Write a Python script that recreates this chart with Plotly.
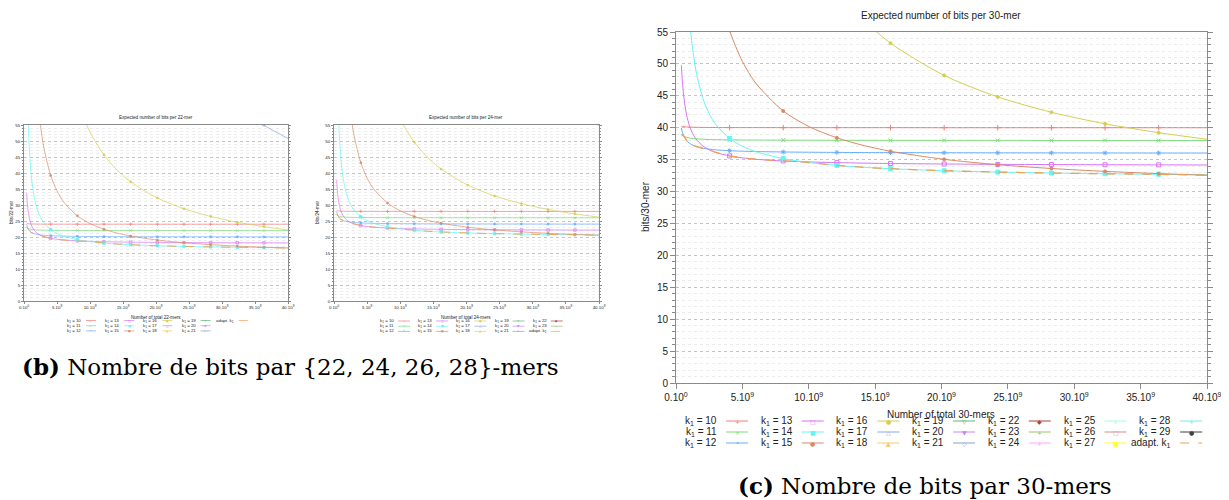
import plotly.graph_objects as go

# The page has an 8px body margin, so the figure is drawn 8px in from the window corner.
W, H = 1229, 500
OFF = 8
FW, FH = W - OFF, H - OFF
N = None

# ---------------- data ----------------
X = [0.404, 0.5, 0.6, 0.8, 1.0, 1.2, 1.5, 2.0, 2.5, 3.0, 4.04, 5.0, 6.0, 8.08,
     10.0, 12.12, 14.0, 16.16, 20.2, 24.24, 28.28, 32.32, 36.36, 40.0]
MARK_X = [4.04, 8.08, 12.12, 16.16, 20.2, 24.24, 28.28, 32.32, 36.36]

XTICK_VALS = [0, 5, 10, 15, 20, 25, 30, 35, 40]
XTICK_TEXT = ['0.10<sup>0</sup>', '5.10<sup>9</sup>', '10.10<sup>9</sup>', '15.10<sup>9</sup>',
              '20.10<sup>9</sup>', '25.10<sup>9</sup>', '30.10<sup>9</sup>', '35.10<sup>9</sup>',
              '40.10<sup>9</sup>']

K1_22 = list(range(10, 22))
K1_24 = list(range(10, 24))
K1_30 = list(range(10, 30))

# 22-mers
B22_K10 = [24.25, 24.20, 24.17, 24.12, 24.10, 24.08, 24.07, 24.05, 24.04, 24.03, 24.02, 24.02,
           24.02, 24.01, 24.01, 24.01, 24.01, 24.01, 24.0, 24.0, 24.0, 24.0, 24.0, 24.0]
B22_K11 = [22.99, 22.80, 22.66, 22.50, 22.40, 22.33, 22.27, 22.20, 22.16, 22.13, 22.10, 22.08,
           22.07, 22.05, 22.04, 22.03, 22.03, 22.02, 22.02, 22.02, 22.01, 22.01, 22.01, 22.01]
B22_K12 = [23.95, 23.19, 22.66, 21.99, 21.59, 21.33, 21.06, 20.80, 20.64, 20.53, 20.40, 20.32,
           20.27, 20.20, 20.16, 20.13, 20.11, 20.10, 20.08, 20.07, 20.06, 20.05, 20.04, 20.04]
B22_K13 = [33.78, 30.75, 28.63, 25.97, 24.38, 23.31, 22.25, 21.19, 20.55, 20.13, 19.58, 19.28,
           19.06, 18.79, 18.64, 18.53, 18.46, 18.39, 18.32, 18.26, 18.23, 18.20, 18.18, 18.16]
B22_K14 = [N, 67.0, 58.5, 47.9, 41.5, 37.25, 33.0, 28.75, 26.2, 24.5, 22.31, 21.10,
           20.25, 19.16, 18.55, 18.10, 17.82, 17.58, 17.26, 17.05, 16.90, 16.79, 16.70, 16.64]
B22_K15 = [N, N, N, N, N, N, 82.0, 65.0, 54.8, 48.0, 39.25, 34.4,
           31.0, 26.62, 24.2, 22.42, 21.29, 20.31, 19.05, 18.21, 17.61, 17.16, 16.81, 16.55]
B22_K16 = [N, N, N, N, N, N, N, N, N, N, N, N,
           80.0, 62.5, 52.8, 45.66, 41.14, 37.25, 32.2, 28.83, 26.43, 24.62, 23.22, 22.2]
B22_K17 = [N, N, N, N, N, N, N, N, N, N, N, N,
           N, N, N, N, N, N, N, N, 67.7, 60.5, 54.9, 50.8]
B22_ADAPT = [22.99, 22.80, 22.66, 21.99, 21.59, 21.33, 21.06, 20.80, 20.55, 20.13, 19.58, 19.28,
             19.06, 18.79, 18.55, 18.10, 17.82, 17.58, 17.26, 17.05, 16.90, 16.79, 16.70, 16.55]

# 24-mers
B24_K10 = [28.25, 28.20, 28.17, 28.12, 28.10, 28.08, 28.07, 28.05, 28.04, 28.03, 28.02, 28.02,
           28.02, 28.01, 28.01, 28.01, 28.01, 28.01, 28.0, 28.0, 28.0, 28.0, 28.0, 28.0]
B24_K11 = [26.99, 26.80, 26.66, 26.50, 26.40, 26.33, 26.27, 26.20, 26.16, 26.13, 26.10, 26.08,
           26.07, 26.05, 26.04, 26.03, 26.03, 26.02, 26.02, 26.02, 26.01, 26.01, 26.01, 26.01]
B24_K12 = [27.95, 27.19, 26.66, 25.99, 25.59, 25.33, 25.06, 24.80, 24.64, 24.53, 24.40, 24.32,
           24.27, 24.20, 24.16, 24.13, 24.11, 24.10, 24.08, 24.07, 24.06, 24.05, 24.04, 24.04]
B24_K13 = [37.78, 34.75, 32.63, 29.97, 28.38, 27.31, 26.25, 25.19, 24.55, 24.13, 23.58, 23.28,
           23.06, 22.79, 22.64, 22.53, 22.46, 22.39, 22.32, 22.26, 22.23, 22.20, 22.18, 22.16]
B24_K14 = [N, 71.0, 62.5, 51.9, 45.5, 41.25, 37.0, 32.75, 30.2, 28.5, 26.31, 25.10,
           24.25, 23.16, 22.55, 22.10, 21.82, 21.58, 21.26, 21.05, 20.90, 20.79, 20.70, 20.64]
B24_K15 = [N, N, N, N, N, N, 86.0, 69.0, 58.8, 52.0, 43.25, 38.4,
           35.0, 30.62, 28.2, 26.42, 25.29, 24.31, 23.05, 22.21, 21.61, 21.16, 20.81, 20.55]
B24_K16 = [N, N, N, N, N, N, N, N, N, N, N, N,
           84.0, 66.5, 56.8, 49.66, 45.14, 41.25, 36.2, 32.83, 30.43, 28.62, 27.22, 26.2]
B24_K17 = [N, N, N, N, N, N, N, N, N, N, N, N,
           N, N, N, N, N, N, N, N, N, 64.5, 58.9, 54.8]
B24_ADAPT = [26.99, 26.80, 26.66, 25.99, 25.59, 25.33, 25.06, 24.80, 24.55, 24.13, 23.58, 23.28,
             23.06, 22.79, 22.55, 22.10, 21.82, 21.58, 21.26, 21.05, 20.90, 20.79, 20.70, 20.55]

# 30-mers
B30_K10 = [40.25, 40.20, 40.17, 40.12, 40.10, 40.08, 40.07, 40.05, 40.04, 40.03, 40.02, 40.02,
           40.02, 40.01, 40.01, 40.01, 40.01, 40.01, 40.0, 40.0, 40.0, 40.0, 40.0, 40.0]
B30_K11 = [38.99, 38.80, 38.66, 38.50, 38.40, 38.33, 38.27, 38.20, 38.16, 38.13, 38.10, 38.08,
           38.07, 38.05, 38.04, 38.03, 38.03, 38.02, 38.02, 38.02, 38.01, 38.01, 38.01, 38.01]
B30_K12 = [39.95, 39.19, 38.66, 37.99, 37.59, 37.33, 37.06, 36.80, 36.64, 36.53, 36.40, 36.32,
           36.27, 36.20, 36.16, 36.13, 36.11, 36.10, 36.08, 36.07, 36.06, 36.05, 36.04, 36.04]
B30_K13 = [49.78, 46.75, 44.63, 41.97, 40.38, 39.31, 38.25, 37.19, 36.55, 36.13, 35.58, 35.28,
           35.06, 34.79, 34.64, 34.53, 34.46, 34.39, 34.32, 34.26, 34.23, 34.20, 34.18, 34.16]
B30_K14 = [N, 83.0, 74.5, 63.9, 57.5, 53.25, 49.0, 44.75, 42.2, 40.5, 38.31, 37.10,
           36.25, 35.16, 34.55, 34.10, 33.82, 33.58, 33.26, 33.05, 32.90, 32.79, 32.70, 32.64]
B30_K15 = [N, N, N, N, N, N, N, 81.0, 70.8, 64.0, 55.25, 50.4,
           47.0, 42.62, 40.2, 38.42, 37.29, 36.31, 35.05, 34.21, 33.61, 33.16, 32.81, 32.55]
B30_K16 = [N, N, N, N, N, N, N, N, N, N, N, N,
           N, 78.5, 68.8, 61.66, 57.14, 53.25, 48.2, 44.83, 42.43, 40.62, 39.22, 38.2]
B30_ADAPT = [38.99, 38.80, 38.66, 37.99, 37.59, 37.33, 37.06, 36.80, 36.55, 36.13, 35.58, 35.28,
             35.06, 34.79, 34.55, 34.10, 33.82, 33.58, 33.26, 33.05, 32.90, 32.79, 32.70, 32.55]

SERIES_22 = [(10, B22_K10), (11, B22_K11), (12, B22_K12), (13, B22_K13), (14, B22_K14),
             (15, B22_K15), (16, B22_K16), (17, B22_K17)]
SERIES_24 = [(10, B24_K10), (11, B24_K11), (12, B24_K12), (13, B24_K13), (14, B24_K14),
             (15, B24_K15), (16, B24_K16), (17, B24_K17)]
SERIES_30 = [(10, B30_K10), (11, B30_K11), (12, B30_K12), (13, B30_K13), (14, B30_K14),
             (15, B30_K15), (16, B30_K16)]

# ---------------- styles ----------------
COLORS = {10: '#f08080', 11: '#7ddc7d', 12: '#6aaefc', 13: '#d874f4', 14: '#66f5f5',
          15: '#d98b66', 16: '#d4cf50', 17: '#8ea6ec', 18: '#f7c860', 19: '#5cb87c',
          20: '#c486fa', 21: '#8aa2ba', 22: '#b03c3c', 23: '#9cbf6a', 24: '#fca8fc',
          25: '#a8fcdc', 26: '#d98a8a', 27: '#ffff33', 28: '#78ecdc', 29: '#404040'}
ADAPT_COLOR = '#f0a050'
SYMBOLS = {10: 'cross-thin-open', 11: 'x-thin-open', 12: 'asterisk-open', 13: 'square-open',
           14: 'square', 15: 'circle', 16: 'circle', 17: 'triangle-up-open', 18: 'triangle-up',
           19: 'triangle-down-open', 20: 'triangle-down', 21: 'diamond-open', 22: 'diamond',
           23: 'cross-thin-open', 24: 'cross-thin-open', 25: 'cross-thin-open', 26: 'square-open',
           27: 'square', 28: 'cross-thin-open', 29: 'circle'}
GLYPH = {'cross-thin-open': '+', 'x-thin-open': '×', 'asterisk-open': '*', 'square-open': '□',
         'square': '■', 'circle': '●', 'triangle-up-open': '△', 'triangle-up': '▲',
         'triangle-down-open': '▽', 'triangle-down': '▼', 'diamond-open': '◇', 'diamond': '◆'}
AX = '#8a8a8a'
TXT = '#222222'
FONT = 'Liberation Sans'
SERIF = 'DejaVu Serif'

fig = go.Figure()


def add_series(series, adapt, xa, ya, lw, ms):
    for k1, ys in series:
        c = COLORS[k1]
        size = ms * (0.75 if SYMBOLS[k1] == 'circle' else 1.0)
        fig.add_trace(go.Scatter(
            x=X, y=ys, xaxis=xa, yaxis=ya, mode='lines+markers', showlegend=False,
            connectgaps=False, name='k1 = %d' % k1,
            line=dict(color=c, width=lw, shape='spline', smoothing=0.8),
            marker=dict(symbol=SYMBOLS[k1], color=c,
                        size=[size if x in MARK_X else 0 for x in X],
                        opacity=[1 if x in MARK_X else 0 for x in X],
                        line=dict(color=c, width=max(lw, 0.6)))))
    fig.add_trace(go.Scatter(
        x=X, y=adapt, xaxis=xa, yaxis=ya, mode='lines', showlegend=False, name='adapt. k1',
        line=dict(color=ADAPT_COLOR, width=lw * 1.3, dash='dash', shape='spline', smoothing=0.8)))


add_series(SERIES_22, B22_ADAPT, 'x', 'y', 0.7, 2.5)
add_series(SERIES_24, B24_ADAPT, 'x2', 'y2', 0.7, 2.5)
add_series(SERIES_30, B30_ADAPT, 'x3', 'y3', 1.0, 4.0)


def px(v):
    return (v - OFF) / FW


def py(v):
    return 1 - (v - OFF) / FH


def xstyle(x0, x1, anchor, fs, tl):
    return dict(domain=[px(x0), px(x1)], anchor=anchor, range=[0, 40],
                tickmode='array', tickvals=XTICK_VALS, ticktext=XTICK_TEXT,
                ticks='outside', ticklen=tl, tickwidth=1, tickcolor=AX,
                showline=True, linecolor=AX, linewidth=1, mirror=True,
                showgrid=False, zeroline=False, automargin=False,
                tickfont=dict(size=fs, color=TXT, family=FONT))


def ystyle(y0, y1, anchor, fs, tl):
    return dict(domain=[py(y1), py(y0)], anchor=anchor, range=[0, 55],
                tick0=0, dtick=5, ticks='outside', ticklen=tl, tickwidth=1, tickcolor=AX,
                showline=True, linecolor=AX, linewidth=1, mirror='ticks',
                showgrid=True, gridcolor='#c4c4c4', gridwidth=1, griddash='dot',
                zeroline=False, automargin=False,
                minor=dict(dtick=1, ticks='outside', ticklen=tl * 0.55, tickcolor=AX,
                           showgrid=True, gridcolor='#ececec', griddash='dot', gridwidth=1),
                tickfont=dict(size=fs, color=TXT, family=FONT))


annotations = []
shapes = []


def text(x, y, s, fs, anchor='center', angle=0, family=FONT, color=TXT):
    annotations.append(dict(x=px(x), y=py(y), xref='paper', yref='paper', text=s,
                            showarrow=False, xanchor=anchor, yanchor='middle',
                            textangle=angle, borderpad=0,
                            font=dict(size=fs, family=family, color=color)))


def legend(k1s, x_text, x_l0, x_l1, y0, dx, dy, fs, gfs, lw):
    entries = [('k<sub>1</sub> = %d' % k, COLORS[k], SYMBOLS[k], 'solid') for k in k1s]
    entries.append(('adapt. k<sub>1</sub>', ADAPT_COLOR, None, 'dash'))
    for i, (lab, c, sym, dash) in enumerate(entries):
        col, row = i // 3, i % 3
        yy = y0 + dy * row
        text(x_text + dx * col, yy, lab, fs, anchor='right')
        shapes.append(dict(type='line', xref='paper', yref='paper',
                           x0=px(x_l0 + dx * col), x1=px(x_l1 + dx * col), y0=py(yy), y1=py(yy),
                           line=dict(color=c, width=lw, dash=dash)))
        if sym is not None:
            text((x_l0 + x_l1) / 2 + dx * col, yy, GLYPH[sym], gfs, color=c, family='DejaVu Sans')


# titles and axis titles
text(156, 117, 'Expected number of bits per 22-mer', 4.6)
text(466, 117, 'Expected number of bits per 24-mer', 4.6)
text(941, 15, 'Expected number of bits per 30-mer', 10)
text(156, 317, 'Number of total 22-mers', 4.6)
text(466, 317, 'Number of total 24-mers', 4.6)
text(941, 414, 'Number of total 30-mers', 10)
text(11, 213, 'bits/22-mer', 4.6, angle=-90)
text(317, 213, 'bits/24-mer', 4.6, angle=-90)
text(645, 207, 'bits/30-mer', 10, angle=-90)

legend(K1_22, 82, 86, 96, 320.5, 38.2, 5.2, 4.4, 3, 0.7)
legend(K1_24, 395, 398, 410, 321, 38.2, 5.2, 4.4, 3, 0.7)
legend(K1_30, 718, 726, 748, 421, 75.7, 11, 10, 6, 1)

# captions
text(290, 366, '<b>(b)</b> Nombre de bits par {22, 24, 26, 28}-mers', 23, family=SERIF,
     color='#000000')
text(925, 485, '<b>(c)</b> Nombre de bits par 30-mers', 23, family=SERIF,
     color='#000000')

fig.update_layout(
    width=FW, height=FH, margin=dict(l=0, r=0, t=0, b=0),
    paper_bgcolor='white', plot_bgcolor='white', showlegend=False,
    font=dict(family=FONT, color=TXT),
    xaxis=xstyle(24, 288, 'y', 4.4, 2), yaxis=ystyle(125, 301, 'x', 4.4, 2),
    xaxis2=xstyle(334, 599, 'y2', 4.4, 2), yaxis2=ystyle(125, 301, 'x2', 4.4, 2),
    xaxis3=xstyle(676, 1207, 'y3', 10, 5), yaxis3=ystyle(32, 383, 'x3', 10, 5),
    annotations=annotations, shapes=shapes,
)

fig.write_html('out.html')
